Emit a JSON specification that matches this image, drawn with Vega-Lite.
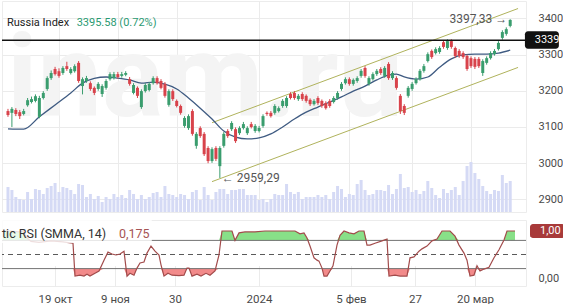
{
  "$schema": "https://vega.github.io/schema/vega-lite/v6.json",
  "background": "white",
  "padding": 0,
  "spacing": 6,
  "config": {"font": "Roboto", "view": {"stroke": "#ececec"}},
  "datasets": {
    "candles": [
      {"t":0,"o":3144,"h":3150,"l":3128,"c":3133,"v":25},
      {"t":1,"o":3139,"h":3155,"l":3100,"c":3150,"v":22},
      {"t":2,"o":3147,"h":3152,"l":3130,"c":3136,"v":15},
      {"t":3,"o":3141,"h":3147,"l":3122,"c":3130,"v":13},
      {"t":4,"o":3136,"h":3150,"l":3132,"c":3144,"v":12},
      {"t":5,"o":3160,"h":3180,"l":3156,"c":3174,"v":20},
      {"t":6,"o":3169,"h":3184,"l":3165,"c":3177,"v":13},
      {"t":7,"o":3172,"h":3190,"l":3168,"c":3185,"v":23},
      {"t":8,"o":3128,"h":3186,"l":3124,"c":3180,"v":22},
      {"t":9,"o":3180,"h":3199,"l":3176,"c":3194,"v":18},
      {"t":10,"o":3205,"h":3240,"l":3200,"c":3235,"v":24},
      {"t":11,"o":3235,"h":3256,"l":3230,"c":3249,"v":26},
      {"t":12,"o":3260,"h":3266,"l":3242,"c":3246,"v":29},
      {"t":13,"o":3254,"h":3262,"l":3236,"c":3241,"v":20},
      {"t":14,"o":3249,"h":3268,"l":3244,"c":3263,"v":25},
      {"t":15,"o":3268,"h":3280,"l":3255,"c":3260,"v":24},
      {"t":16,"o":3249,"h":3265,"l":3245,"c":3260,"v":22},
      {"t":17,"o":3254,"h":3273,"l":3250,"c":3268,"v":18},
      {"t":18,"o":3277,"h":3282,"l":3222,"c":3227,"v":28},
      {"t":19,"o":3213,"h":3237,"l":3190,"c":3232,"v":27},
      {"t":20,"o":3227,"h":3241,"l":3222,"c":3235,"v":15},
      {"t":21,"o":3221,"h":3226,"l":3200,"c":3205,"v":18},
      {"t":22,"o":3208,"h":3212,"l":3188,"c":3194,"v":13},
      {"t":23,"o":3205,"h":3224,"l":3200,"c":3219,"v":16},
      {"t":24,"o":3191,"h":3218,"l":3183,"c":3213,"v":10},
      {"t":25,"o":3208,"h":3232,"l":3203,"c":3227,"v":15},
      {"t":26,"o":3232,"h":3251,"l":3228,"c":3246,"v":13},
      {"t":27,"o":3235,"h":3252,"l":3231,"c":3246,"v":18},
      {"t":28,"o":3246,"h":3252,"l":3233,"c":3238,"v":15},
      {"t":29,"o":3241,"h":3252,"l":3236,"c":3246,"v":17},
      {"t":30,"o":3244,"h":3254,"l":3240,"c":3249,"v":14},
      {"t":31,"o":3232,"h":3238,"l":3214,"c":3219,"v":22},
      {"t":32,"o":3194,"h":3221,"l":3190,"c":3216,"v":18},
      {"t":33,"o":3208,"h":3212,"l":3180,"c":3186,"v":13},
      {"t":34,"o":3155,"h":3204,"l":3150,"c":3199,"v":17},
      {"t":35,"o":3199,"h":3221,"l":3195,"c":3216,"v":13},
      {"t":36,"o":3202,"h":3224,"l":3198,"c":3219,"v":15},
      {"t":37,"o":3221,"h":3240,"l":3217,"c":3235,"v":19},
      {"t":38,"o":3235,"h":3240,"l":3217,"c":3221,"v":20},
      {"t":39,"o":3227,"h":3232,"l":3204,"c":3208,"v":15},
      {"t":40,"o":3219,"h":3224,"l":3181,"c":3186,"v":26},
      {"t":41,"o":3161,"h":3204,"l":3156,"c":3199,"v":18},
      {"t":42,"o":3199,"h":3204,"l":3172,"c":3177,"v":17},
      {"t":43,"o":3172,"h":3176,"l":3154,"c":3158,"v":15},
      {"t":44,"o":3158,"h":3162,"l":3134,"c":3139,"v":18},
      {"t":45,"o":3103,"h":3130,"l":3098,"c":3125,"v":17},
      {"t":46,"o":3097,"h":3135,"l":3092,"c":3130,"v":13},
      {"t":47,"o":3144,"h":3149,"l":3076,"c":3081,"v":20},
      {"t":48,"o":3048,"h":3086,"l":3040,"c":3081,"v":22},
      {"t":49,"o":3097,"h":3102,"l":3070,"c":3075,"v":12},
      {"t":50,"o":3081,"h":3086,"l":3020,"c":3025,"v":25},
      {"t":51,"o":3042,"h":3047,"l":3000,"c":3006,"v":17},
      {"t":52,"o":3006,"h":3044,"l":3001,"c":3039,"v":12},
      {"t":53,"o":3042,"h":3047,"l":3006,"c":3012,"v":20},
      {"t":54,"o":2992,"h":3047,"l":2959.29,"c":3042,"v":23},
      {"t":55,"o":3048,"h":3086,"l":3043,"c":3081,"v":23},
      {"t":56,"o":3089,"h":3094,"l":3070,"c":3075,"v":18},
      {"t":57,"o":3094,"h":3116,"l":3089,"c":3111,"v":22},
      {"t":58,"o":3094,"h":3099,"l":3056,"c":3061,"v":22},
      {"t":59,"o":3083,"h":3102,"l":3078,"c":3097,"v":23},
      {"t":60,"o":3097,"h":3114,"l":3093,"c":3108,"v":23},
      {"t":61,"o":3083,"h":3102,"l":3078,"c":3097,"v":17},
      {"t":62,"o":3108,"h":3114,"l":3096,"c":3100,"v":17},
      {"t":63,"o":3089,"h":3108,"l":3084,"c":3103,"v":17},
      {"t":64,"o":3089,"h":3103,"l":3085,"c":3097,"v":12},
      {"t":65,"o":3103,"h":3135,"l":3098,"c":3130,"v":13},
      {"t":66,"o":3139,"h":3143,"l":3131,"c":3136,"v":10},
      {"t":67,"o":3139,"h":3144,"l":3126,"c":3130,"v":13},
      {"t":68,"o":3139,"h":3163,"l":3134,"c":3158,"v":18},
      {"t":69,"o":3144,"h":3157,"l":3140,"c":3152,"v":17},
      {"t":70,"o":3158,"h":3177,"l":3153,"c":3172,"v":17},
      {"t":71,"o":3158,"h":3185,"l":3153,"c":3180,"v":28},
      {"t":72,"o":3191,"h":3196,"l":3176,"c":3180,"v":20},
      {"t":73,"o":3194,"h":3199,"l":3175,"c":3180,"v":18},
      {"t":74,"o":3177,"h":3191,"l":3172,"c":3186,"v":20},
      {"t":75,"o":3191,"h":3196,"l":3172,"c":3177,"v":13},
      {"t":76,"o":3186,"h":3190,"l":3167,"c":3172,"v":15},
      {"t":77,"o":3175,"h":3179,"l":3158,"c":3163,"v":15},
      {"t":78,"o":3163,"h":3177,"l":3159,"c":3172,"v":15},
      {"t":79,"o":3180,"h":3185,"l":3161,"c":3166,"v":17},
      {"t":80,"o":3172,"h":3176,"l":3153,"c":3158,"v":15},
      {"t":81,"o":3166,"h":3171,"l":3148,"c":3152,"v":17},
      {"t":82,"o":3172,"h":3177,"l":3153,"c":3158,"v":13},
      {"t":83,"o":3169,"h":3185,"l":3165,"c":3180,"v":20},
      {"t":84,"o":3180,"h":3199,"l":3175,"c":3194,"v":26},
      {"t":85,"o":3205,"h":3224,"l":3200,"c":3219,"v":23},
      {"t":86,"o":3221,"h":3237,"l":3217,"c":3232,"v":15},
      {"t":87,"o":3232,"h":3237,"l":3214,"c":3219,"v":18},
      {"t":88,"o":3219,"h":3234,"l":3214,"c":3230,"v":17},
      {"t":89,"o":3227,"h":3240,"l":3222,"c":3235,"v":28},
      {"t":90,"o":3241,"h":3260,"l":3236,"c":3255,"v":32},
      {"t":91,"o":3263,"h":3268,"l":3236,"c":3241,"v":22},
      {"t":92,"o":3219,"h":3240,"l":3214,"c":3235,"v":17},
      {"t":93,"o":3232,"h":3251,"l":3228,"c":3246,"v":18},
      {"t":94,"o":3246,"h":3260,"l":3241,"c":3255,"v":22},
      {"t":95,"o":3260,"h":3265,"l":3244,"c":3249,"v":22},
      {"t":96,"o":3241,"h":3268,"l":3236,"c":3263,"v":21},
      {"t":97,"o":3274,"h":3279,"l":3230,"c":3235,"v":27},
      {"t":98,"o":3235,"h":3254,"l":3230,"c":3249,"v":18},
      {"t":99,"o":3235,"h":3240,"l":3203,"c":3208,"v":23},
      {"t":100,"o":3186,"h":3191,"l":3136,"c":3144,"v":38},
      {"t":101,"o":3158,"h":3163,"l":3133,"c":3139,"v":24},
      {"t":102,"o":3186,"h":3213,"l":3181,"c":3208,"v":25},
      {"t":103,"o":3205,"h":3224,"l":3200,"c":3219,"v":20},
      {"t":104,"o":3221,"h":3237,"l":3217,"c":3232,"v":22},
      {"t":105,"o":3232,"h":3260,"l":3228,"c":3255,"v":18},
      {"t":106,"o":3255,"h":3274,"l":3250,"c":3268,"v":21},
      {"t":107,"o":3282,"h":3306,"l":3278,"c":3301,"v":31},
      {"t":108,"o":3310,"h":3314,"l":3288,"c":3293,"v":24},
      {"t":109,"o":3304,"h":3320,"l":3300,"c":3315,"v":17},
      {"t":110,"o":3307,"h":3323,"l":3302,"c":3318,"v":14},
      {"t":111,"o":3334,"h":3339,"l":3316,"c":3321,"v":23},
      {"t":112,"o":3318,"h":3342,"l":3313,"c":3337,"v":19},
      {"t":113,"o":3337,"h":3342,"l":3316,"c":3321,"v":22},
      {"t":114,"o":3318,"h":3322,"l":3291,"c":3296,"v":25},
      {"t":115,"o":3310,"h":3315,"l":3291,"c":3296,"v":17},
      {"t":116,"o":3304,"h":3309,"l":3288,"c":3293,"v":31},
      {"t":117,"o":3296,"h":3300,"l":3255,"c":3260,"v":46},
      {"t":118,"o":3290,"h":3295,"l":3263,"c":3268,"v":50},
      {"t":119,"o":3288,"h":3293,"l":3260,"c":3266,"v":39},
      {"t":120,"o":3288,"h":3293,"l":3263,"c":3268,"v":33},
      {"t":121,"o":3249,"h":3287,"l":3241,"c":3282,"v":26},
      {"t":122,"o":3277,"h":3295,"l":3272,"c":3290,"v":21},
      {"t":123,"o":3290,"h":3309,"l":3286,"c":3304,"v":18},
      {"t":124,"o":3301,"h":3315,"l":3297,"c":3310,"v":22},
      {"t":125,"o":3315,"h":3337,"l":3311,"c":3332,"v":21},
      {"t":126,"o":3346,"h":3367,"l":3341,"c":3362,"v":37},
      {"t":127,"o":3357,"h":3375,"l":3352,"c":3370,"v":29},
      {"t":128,"o":3379,"h":3397.33,"l":3375,"c":3395.58,"v":31}
    ],
    "ma": [
      {"t":0,"ma":3095},{"t":4,"ma":3094},{"t":8,"ma":3128},{"t":12,"ma":3161},{"t":16,"ma":3194},
      {"t":19,"ma":3221},{"t":22,"ma":3234},{"t":25,"ma":3238},{"t":28,"ma":3235},{"t":31,"ma":3230},
      {"t":34,"ma":3221},{"t":37,"ma":3224},{"t":40,"ma":3218},{"t":43,"ma":3205},{"t":46,"ma":3180},
      {"t":49,"ma":3152},{"t":52,"ma":3122},{"t":55,"ma":3089},{"t":58,"ma":3072},{"t":61,"ma":3067},
      {"t":64,"ma":3070},{"t":67,"ma":3081},{"t":70,"ma":3100},{"t":73,"ma":3122},{"t":76,"ma":3141},
      {"t":79,"ma":3155},{"t":82,"ma":3169},{"t":85,"ma":3183},{"t":88,"ma":3199},{"t":91,"ma":3213},
      {"t":94,"ma":3230},{"t":97,"ma":3243},{"t":99,"ma":3246},{"t":101,"ma":3238},{"t":104,"ma":3232},
      {"t":107,"ma":3238},{"t":110,"ma":3265},{"t":113,"ma":3288},{"t":116,"ma":3299},{"t":119,"ma":3301},
      {"t":122,"ma":3301},{"t":125,"ma":3304},{"t":128,"ma":3312}
    ],
    "channel": [
      {"t":52,"p":3111.8,"line":"upper"},{"t":130,"p":3427,"line":"upper"},
      {"t":52,"p":2949.2,"line":"lower"},{"t":130,"p":3264.4,"line":"lower"}
    ],
    "priceLabels": [
      {"t":-0.25,"p":3130,"label":"inam.ru","kind":"watermark"},
      {"t":54,"p":2959.29,"label":"← 2959,29","kind":"low"},
      {"t":128,"p":3397.33,"label":"3397,33 →","kind":"high"},
      {"t":-0.25,"p":3388,"label":"Russia Index","kind":"name"},
      {"t":17.5,"p":3388,"label":"3395.58 (0.72%)","kind":"last"}
    ],
    "level": [
      {"p":3339.38,"label":"3339","t0":131.75,"t1":140.4,"pTop":3364,"pBottom":3316,"tText":134.25}
    ],
    "rsiLevels": [
      {"r":0.8,"kind":"band"},{"r":0.2,"kind":"band"},{"r":0.5,"kind":"mid"}
    ],
    "rsiLabels": [
      {"t":-0.25,"r":0.93,"label":"tic RSI (SMMA, 14)","kind":"name"},
      {"t":29,"r":0.93,"label":"0,175","kind":"value"}
    ],
    "rsiBox": [
      {"t0":-0.25,"t1":37.2,"r0":0.745,"r1":1.234}
    ],
    "rsiLast": [
      {"r":1.0,"label":"1,00","t0":131.75,"t1":140.4,"rTop":1.149,"rBottom":0.851,"tText":134.25}
    ],
    "rsi": [
      {"t":0,"r":1.0},{"t":2,"r":1.0},{"t":4,"r":0.98},{"t":5,"r":1.0},{"t":6,"r":0.85},{"t":7,"r":0.78},
      {"t":9,"r":0.76},{"t":12,"r":0.79},{"t":15,"r":0.77},{"t":17.5,"r":0.74},{"t":18,"r":0.04},
      {"t":19.25,"r":0.06},{"t":20.25,"r":0.04},{"t":21,"r":0.08},{"t":21.75,"r":0.04},{"t":23,"r":0.10},
      {"t":24,"r":0.15},{"t":25.25,"r":0.38},{"t":26.25,"r":0.55},{"t":27.25,"r":0.51},{"t":28.25,"r":0.49},
      {"t":29.25,"r":0.51},{"t":30.25,"r":0.57},{"t":31,"r":0.04},{"t":31.75,"r":0.10},{"t":32.75,"r":0.06},
      {"t":33.5,"r":0.21},{"t":34.25,"r":0.32},{"t":35.25,"r":0.34},{"t":36,"r":0.53},{"t":37,"r":0.68},
      {"t":38,"r":0.57},{"t":39,"r":0.49},{"t":39.5,"r":0.28},{"t":40.25,"r":0.04},{"t":41.25,"r":0.10},
      {"t":42.25,"r":0.06},{"t":44,"r":0.05},{"t":45.25,"r":0.06},{"t":46,"r":0.21},{"t":46.5,"r":0.21},
      {"t":47.25,"r":0.04},{"t":48.5,"r":0.08},{"t":49.5,"r":0.04},{"t":50.75,"r":0.10},{"t":51.75,"r":0.06},
      {"t":53,"r":0.15},{"t":54,"r":0.49},{"t":54.75,"r":1.0},{"t":57.25,"r":1.0},{"t":58,"r":0.8},
      {"t":59,"r":0.96},{"t":60.5,"r":0.98},{"t":63,"r":0.98},{"t":65.5,"r":1.0},{"t":69,"r":1.0},
      {"t":73,"r":1.0},{"t":74.25,"r":0.94},{"t":75.25,"r":0.96},{"t":76,"r":0.85},{"t":76.75,"r":0.68},
      {"t":77.75,"r":0.43},{"t":78.5,"r":0.38},{"t":79,"r":0.36},{"t":79.75,"r":0.21},{"t":80.25,"r":0.04},
      {"t":81,"r":0.04},{"t":81.75,"r":0.15},{"t":82.5,"r":0.26},{"t":83.5,"r":0.70},{"t":84.25,"r":0.91},
      {"t":85.25,"r":1.0},{"t":86.5,"r":0.96},{"t":87.75,"r":0.94},{"t":89,"r":1.0},{"t":90.25,"r":1.0},
      {"t":91,"r":0.70},{"t":91.75,"r":0.70},{"t":93,"r":0.74},{"t":94.75,"r":0.79},{"t":96,"r":0.83},
      {"t":96.5,"r":0.04},{"t":98,"r":0.06},{"t":99.25,"r":0.04},{"t":101,"r":0.04},{"t":101.75,"r":0.43},
      {"t":102.75,"r":0.45},{"t":104,"r":0.57},{"t":104.75,"r":0.62},{"t":106,"r":0.68},{"t":107.25,"r":0.79},
      {"t":108.5,"r":0.83},{"t":109.75,"r":1.0},{"t":111.75,"r":1.0},{"t":113,"r":0.89},{"t":114,"r":0.70},
      {"t":115.25,"r":0.53},{"t":116,"r":0.38},{"t":116.75,"r":0.04},{"t":117.75,"r":0.06},{"t":118.5,"r":0.26},
      {"t":119.25,"r":0.15},{"t":120.25,"r":0.19},{"t":121.5,"r":0.23},{"t":122.75,"r":0.43},{"t":124,"r":0.60},
      {"t":125.25,"r":0.81},{"t":126,"r":1.0},{"t":128,"r":1.0}
    ]
  },
  "vconcat": [
    {
      "width": 524,
      "height": 211,
      "layer": [
        {
          "data": {"name": "candles"},
          "mark": {"type": "bar", "size": 3, "color": "#d5daf5", "clip": true},
          "encoding": {
            "x": {"field": "t", "type": "quantitative", "scale": {"domain": [-0.25, 130.75], "nice": false, "zero": false},
              "axis": {"values": [13, 28, 43, 64, 87, 103, 118], "labels": false, "ticks": false, "domain": false, "grid": true, "gridColor": "#ebebeb", "title": null}},
            "y": {"field": "v", "type": "quantitative", "scale": {"domain": [0, 211], "nice": false}, "axis": null}
          }
        },
        {
          "data": {"name": "priceLabels"},
          "transform": [{"filter": "datum.kind == 'watermark'"}],
          "mark": {"type": "text", "fontSize": 115, "fontWeight": "bold", "color": "#f4f4f4", "align": "left", "baseline": "alphabetic"},
          "encoding": {
            "x": {"field": "t", "type": "quantitative", "scale": {"domain": [-0.25, 130.75], "nice": false, "zero": false}},
            "y": {"field": "p", "type": "quantitative", "scale": {"domain": [2865.4, 3447.75], "nice": false, "zero": false},
              "axis": {"orient": "right", "values": [2900, 3000, 3100, 3200, 3300, 3400], "format": "d", "labelPadding": 12, "labelFontSize": 11, "labelColor": "#4a4a4a", "ticks": false, "domain": false, "grid": true, "gridColor": "#ebebeb", "title": null}},
            "text": {"field": "label"}
          }
        },
        {
          "data": {"name": "channel"},
          "mark": {"type": "line", "color": "#b0b35c", "strokeWidth": 1},
          "encoding": {
            "x": {"field": "t", "type": "quantitative", "scale": {"domain": [-0.25, 130.75], "nice": false, "zero": false}},
            "y": {"field": "p", "type": "quantitative", "scale": {"domain": [2865.4, 3447.75], "nice": false, "zero": false}, "axis": null},
            "detail": {"field": "line"}
          }
        },
        {
          "data": {"name": "ma"},
          "mark": {"type": "line", "color": "#3f5b82", "strokeWidth": 1.3, "interpolate": "monotone"},
          "encoding": {
            "x": {"field": "t", "type": "quantitative", "scale": {"domain": [-0.25, 130.75], "nice": false, "zero": false}},
            "y": {"field": "ma", "type": "quantitative", "scale": {"domain": [2865.4, 3447.75], "nice": false, "zero": false}, "axis": null}
          }
        },
        {
          "data": {"name": "candles"},
          "mark": {"type": "rule", "strokeWidth": 1},
          "encoding": {
            "x": {"field": "t", "type": "quantitative", "scale": {"domain": [-0.25, 130.75], "nice": false, "zero": false}},
            "y": {"field": "l", "type": "quantitative", "scale": {"domain": [2865.4, 3447.75], "nice": false, "zero": false}, "axis": null},
            "y2": {"field": "h"},
            "color": {"condition": {"test": "datum.c >= datum.o", "value": "#3a9d6e"}, "value": "#d8434b"}
          }
        },
        {
          "data": {"name": "candles"},
          "mark": {"type": "bar", "size": 3, "clip": true},
          "encoding": {
            "x": {"field": "t", "type": "quantitative", "scale": {"domain": [-0.25, 130.75], "nice": false, "zero": false}},
            "y": {"field": "o", "type": "quantitative", "scale": {"domain": [2865.4, 3447.75], "nice": false, "zero": false}, "axis": null},
            "y2": {"field": "c"},
            "color": {"condition": {"test": "datum.c >= datum.o", "value": "#3a9d6e"}, "value": "#d8434b"}
          }
        },
        {
          "data": {"name": "level"},
          "mark": {"type": "rule", "color": "#111111", "strokeWidth": 1.5},
          "encoding": {
            "y": {"field": "p", "type": "quantitative", "scale": {"domain": [2865.4, 3447.75], "nice": false, "zero": false}, "axis": null}
          }
        },
        {
          "data": {"name": "level"},
          "mark": {"type": "rect", "color": "#111111", "cornerRadius": 3},
          "encoding": {
            "x": {"field": "t0", "type": "quantitative", "scale": {"domain": [-0.25, 130.75], "nice": false, "zero": false}},
            "x2": {"field": "t1"},
            "y": {"field": "pTop", "type": "quantitative", "scale": {"domain": [2865.4, 3447.75], "nice": false, "zero": false}, "axis": null},
            "y2": {"field": "pBottom"}
          }
        },
        {
          "data": {"name": "level"},
          "mark": {"type": "text", "color": "white", "fontSize": 11, "align": "left", "baseline": "middle"},
          "encoding": {
            "x": {"field": "tText", "type": "quantitative", "scale": {"domain": [-0.25, 130.75], "nice": false, "zero": false}},
            "y": {"field": "p", "type": "quantitative", "scale": {"domain": [2865.4, 3447.75], "nice": false, "zero": false}, "axis": null},
            "text": {"field": "label"}
          }
        },
        {
          "data": {"name": "priceLabels"},
          "transform": [{"filter": "datum.kind == 'low'"}],
          "mark": {"type": "text", "color": "#555555", "fontSize": 12, "align": "left", "baseline": "middle", "dx": 2},
          "encoding": {
            "x": {"field": "t", "type": "quantitative", "scale": {"domain": [-0.25, 130.75], "nice": false, "zero": false}},
            "y": {"field": "p", "type": "quantitative", "scale": {"domain": [2865.4, 3447.75], "nice": false, "zero": false}, "axis": null},
            "text": {"field": "label"}
          }
        },
        {
          "data": {"name": "priceLabels"},
          "transform": [{"filter": "datum.kind == 'high'"}],
          "mark": {"type": "text", "color": "#555555", "fontSize": 12, "align": "right", "baseline": "middle", "dx": -3},
          "encoding": {
            "x": {"field": "t", "type": "quantitative", "scale": {"domain": [-0.25, 130.75], "nice": false, "zero": false}},
            "y": {"field": "p", "type": "quantitative", "scale": {"domain": [2865.4, 3447.75], "nice": false, "zero": false}, "axis": null},
            "text": {"field": "label"}
          }
        },
        {
          "data": {"name": "priceLabels"},
          "transform": [{"filter": "datum.kind == 'name' || datum.kind == 'last'"}],
          "mark": {"type": "text", "fontSize": 11, "align": "left", "baseline": "middle"},
          "encoding": {
            "x": {"field": "t", "type": "quantitative", "scale": {"domain": [-0.25, 130.75], "nice": false, "zero": false}},
            "y": {"field": "p", "type": "quantitative", "scale": {"domain": [2865.4, 3447.75], "nice": false, "zero": false}, "axis": null},
            "text": {"field": "label"},
            "color": {"condition": {"test": "datum.kind == 'last'", "value": "#2b9a72"}, "value": "#222222"}
          }
        }
      ],
      "resolve": {"scale": {"y": "independent"}}
    },
    {
      "width": 524,
      "height": 66,
      "layer": [
        {
          "data": {"name": "rsi"},
          "mark": {"type": "area", "color": "#88e088"},
          "encoding": {
            "x": {"field": "t", "type": "quantitative", "scale": {"domain": [-0.25, 130.75], "nice": false, "zero": false},
              "axis": {"orient": "bottom", "values": [13, 28, 43, 64, 87, 103, 118],
                "labelExpr": "datum.value == 13 ? '19 окт' : datum.value == 28 ? '9 ноя' : datum.value == 43 ? '30' : datum.value == 64 ? '2024' : datum.value == 87 ? '5 фев' : datum.value == 103 ? '27' : '20 мар'",
                "labelFontSize": 11.5, "labelColor": "#4a4a4a", "labelPadding": 7, "ticks": false, "domain": false, "grid": true, "gridColor": "#ebebeb", "title": null}},
            "y": {"field": "r", "type": "quantitative", "scale": {"domain": [0.8, 1.234], "range": [20.4, 0], "clamp": true, "nice": false, "zero": false}, "axis": null},
            "y2": {"datum": 0.8}
          }
        },
        {
          "data": {"name": "rsi"},
          "mark": {"type": "area", "color": "#f28a8a"},
          "encoding": {
            "x": {"field": "t", "type": "quantitative", "scale": {"domain": [-0.25, 130.75], "nice": false, "zero": false}},
            "y": {"field": "r", "type": "quantitative", "scale": {"domain": [-0.17, 0.2], "range": [66, 48.6], "clamp": true, "nice": false, "zero": false}, "axis": null},
            "y2": {"datum": 0.2}
          }
        },
        {
          "data": {"name": "rsiLevels"},
          "mark": {"type": "rule", "strokeWidth": 1},
          "encoding": {
            "y": {"field": "r", "type": "quantitative", "scale": {"domain": [-0.17, 1.234], "nice": false, "zero": false},
              "axis": {"orient": "right", "values": [0], "labelExpr": "'0,00'", "labelPadding": 12, "labelFontSize": 11, "labelColor": "#4a4a4a", "ticks": false, "domain": false, "grid": false, "title": null}},
            "color": {"condition": {"test": "datum.kind == 'mid'", "value": "#5a5a5a"}, "value": "#737373"},
            "strokeDash": {"condition": {"test": "datum.kind == 'mid'", "value": [5, 4]}, "value": [1, 0]}
          }
        },
        {
          "data": {"name": "rsi"},
          "mark": {"type": "line", "color": "#a24b4b", "strokeWidth": 1.2},
          "encoding": {
            "x": {"field": "t", "type": "quantitative", "scale": {"domain": [-0.25, 130.75], "nice": false, "zero": false}},
            "y": {"field": "r", "type": "quantitative", "scale": {"domain": [-0.17, 1.234], "nice": false, "zero": false}, "axis": null}
          }
        },
        {
          "data": {"name": "rsiBox"},
          "mark": {"type": "rect", "color": "white", "opacity": 0.82},
          "encoding": {
            "x": {"field": "t0", "type": "quantitative", "scale": {"domain": [-0.25, 130.75], "nice": false, "zero": false}},
            "x2": {"field": "t1"},
            "y": {"field": "r0", "type": "quantitative", "scale": {"domain": [-0.17, 1.234], "nice": false, "zero": false}, "axis": null},
            "y2": {"field": "r1"}
          }
        },
        {
          "data": {"name": "rsiLabels"},
          "mark": {"type": "text", "fontSize": 12.5, "align": "left", "baseline": "middle"},
          "encoding": {
            "x": {"field": "t", "type": "quantitative", "scale": {"domain": [-0.25, 130.75], "nice": false, "zero": false}},
            "y": {"field": "r", "type": "quantitative", "scale": {"domain": [-0.17, 1.234], "nice": false, "zero": false}, "axis": null},
            "text": {"field": "label"},
            "color": {"condition": {"test": "datum.kind == 'value'", "value": "#a65454"}, "value": "#333333"}
          }
        },
        {
          "data": {"name": "rsiLast"},
          "mark": {"type": "rect", "color": "#a83a3a", "cornerRadius": 3},
          "encoding": {
            "x": {"field": "t0", "type": "quantitative", "scale": {"domain": [-0.25, 130.75], "nice": false, "zero": false}},
            "x2": {"field": "t1"},
            "y": {"field": "rTop", "type": "quantitative", "scale": {"domain": [-0.17, 1.234], "nice": false, "zero": false}, "axis": null},
            "y2": {"field": "rBottom"}
          }
        },
        {
          "data": {"name": "rsiLast"},
          "mark": {"type": "text", "color": "white", "fontSize": 11, "align": "left", "baseline": "middle"},
          "encoding": {
            "x": {"field": "tText", "type": "quantitative", "scale": {"domain": [-0.25, 130.75], "nice": false, "zero": false}},
            "y": {"field": "r", "type": "quantitative", "scale": {"domain": [-0.17, 1.234], "nice": false, "zero": false}, "axis": null},
            "text": {"field": "label"}
          }
        }
      ],
      "resolve": {"scale": {"y": "independent"}}
    }
  ]
}
